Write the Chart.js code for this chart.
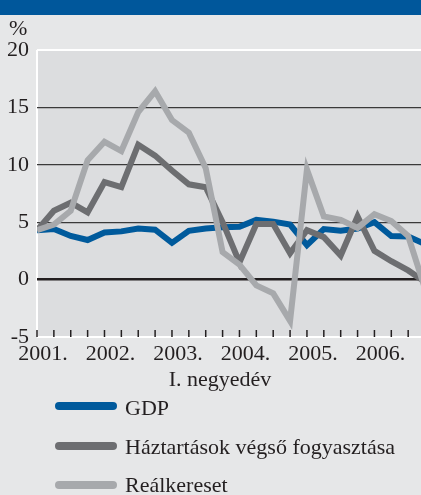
<!DOCTYPE html>
<html><head><meta charset="utf-8">
<script src="https://cdn.jsdelivr.net/npm/chart.js@4"></script>
<style>
html,body{margin:0;padding:0;background:#e6e7e8;overflow:hidden;}
#wrap{position:relative;width:421px;height:495px;font-family:"Liberation Serif",serif;color:#231f20;}
#banner{position:absolute;left:0;top:0;width:421px;height:15px;background:#00579b;}
canvas{position:absolute;left:0;top:0;}
.t{position:absolute;font-size:22px;line-height:22px;white-space:nowrap;}
.sw{position:absolute;left:55px;width:62px;height:8px;border-radius:4px;}
</style></head><body>
<div id="wrap">
<canvas id="c" width="421" height="495"></canvas>
<div id="banner"></div>
<div class="t" style="left:9px;top:17px">%</div>
<div class="t" style="left:0;width:440px;text-align:center;top:368px">I. negyedév</div>
<div id="legend"></div>
</div>
<script>
// Quarterly data, 2001 Q1 .. 2006 Q4 (annual % change)
const quarters = ['2001 Q1','2001 Q2','2001 Q3','2001 Q4','2002 Q1','2002 Q2','2002 Q3','2002 Q4',
  '2003 Q1','2003 Q2','2003 Q3','2003 Q4','2004 Q1','2004 Q2','2004 Q3','2004 Q4',
  '2005 Q1','2005 Q2','2005 Q3','2005 Q4','2006 Q1','2006 Q2','2006 Q3','2006 Q4'];
const yearLabels = ['2001.','2002.','2003.','2004.','2005.','2006.'];
const gdp = [4.3,4.4,3.8,3.45,4.1,4.2,4.45,4.35,3.2,4.25,4.45,4.55,4.6,5.2,5.05,4.8,3.0,4.4,4.25,4.45,5.0,3.8,3.75,3.1];
const haztartas = [4.3,6.0,6.7,5.85,8.5,8.05,11.75,10.8,9.5,8.3,8.05,5.0,1.5,4.85,4.85,2.3,4.3,3.7,2.1,5.5,2.5,1.6,0.8,-0.2];
const realkereset = [4.3,4.8,6.0,10.4,12.0,11.2,14.6,16.4,13.9,12.8,9.7,2.4,1.3,-0.5,-1.2,-3.6,9.6,5.5,5.2,4.5,5.7,5.1,3.8,-0.8];
const seriesNames = ['GDP','Háztartások végső fogyasztása','Reálkereset'];
const seriesColors = ['#005a9c','#6d6e71','#a7a9ac'];
const yMin = -5, yMax = 20, yStep = 5;

const seriesData = [gdp, haztartas, realkereset];
const datasets = seriesData.map((arr, k) => ({
  label: seriesNames[k],
  data: arr.map((v, i) => ({x: i, y: v})),
  borderColor: seriesColors[k],
  backgroundColor: seriesColors[k],
  borderWidth: 6,
  pointRadius: 0,
  tension: 0,
  borderJoinStyle: 'miter',
  borderCapStyle: 'butt',
  order: 2 - k
}));

const FONT = {family: '"Liberation Serif", serif', size: 22};
const TXT = '#231f20';

const bgPlugin = {
  id: 'bg',
  beforeDraw(chart) {
    const a = chart.chartArea, c = chart.ctx;
    c.save(); c.fillStyle = '#dcdddf';
    c.fillRect(a.left, a.top, a.right - a.left, a.bottom - a.top);
    c.restore();
  }
};
const tickPlugin = {
  id: 'innerTicks',
  afterDatasetsDraw(chart) {
    const xs = chart.scales.x, a = chart.chartArea, c = chart.ctx;
    c.save(); c.strokeStyle = TXT; c.lineWidth = 1.5;
    for (let i = 0; i < quarters.length; i++) {
      const px = xs.getPixelForValue(i);
      if (px > a.right + 1) continue;
      c.beginPath(); c.moveTo(px, a.bottom); c.lineTo(px, a.bottom - 7); c.stroke();
    }
    c.restore();
  }
};

new Chart(document.getElementById('c'), {
  type: 'line',
  data: {datasets},
  plugins: [bgPlugin, tickPlugin],
  options: {
    responsive: false,
    animation: false,
    layout: {padding: {top: 50, left: 0, right: 0, bottom: 128}},
    plugins: {legend: {display: false}, tooltip: {enabled: false}},
    scales: {
      x: {
        type: 'linear', min: 0, max: 22.76,
        afterBuildTicks: s => { s.ticks = quarters.slice(0, 23).map((q, i) => ({value: i})); },
        afterFit: s => { s.height = 30; },
        ticks: {
          autoSkip: false, maxRotation: 0, padding: 4, labelOffset: 6,
          font: FONT, color: TXT,
          callback: v => (v % 4 === 0 ? yearLabels[v / 4] : '')
        },
        grid: {
          drawTicks: false,
          color: c => (c.tick && c.tick.value === 0 ? '#ffffff' : 'rgba(0,0,0,0)'),
          lineWidth: 2
        },
        border: {display: false}
      },
      y: {
        min: yMin, max: yMax,
        afterFit: s => { s.width = 37; },
        ticks: {stepSize: yStep, padding: 8, font: FONT, color: TXT},
        grid: {
          drawTicks: false,
          color: c => {
            const v = c.tick.value;
            if (v === 0) return '#231f20';
            if (v === yMin || v === yMax) return '#ffffff';
            return '#3a3a3a';
          },
          lineWidth: c => {
            const v = c.tick.value;
            if (v === 0) return 2.5;
            if (v === yMin || v === yMax) return 2;
            return 1.3;
          }
        },
        border: {display: false}
      }
    }
  }
});

// HTML legend from the series definitions
const lg = document.getElementById('legend');
const swTop = [402, 442, 481], txTop = [397, 436, 474];
seriesNames.forEach((name, k) => {
  const sw = document.createElement('div');
  sw.className = 'sw'; sw.style.top = swTop[k] + 'px'; sw.style.background = seriesColors[k];
  lg.appendChild(sw);
  const t = document.createElement('div');
  t.className = 't'; t.style.left = '125px'; t.style.top = txTop[k] + 'px'; t.textContent = name;
  lg.appendChild(t);
});
</script>
</body></html>
